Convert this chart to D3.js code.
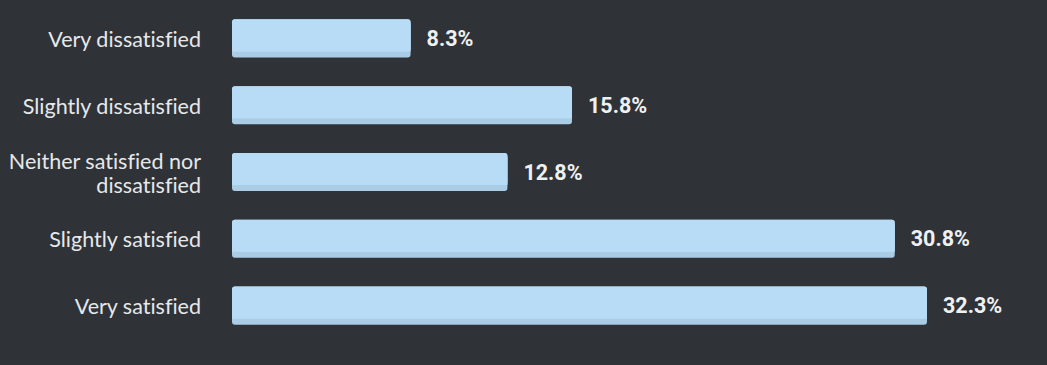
<!DOCTYPE html>
<html><head><meta charset="utf-8">
<script src="https://cdn.jsdelivr.net/npm/d3@7"></script>
<style>html,body{margin:0;padding:0;background:#2f3237;}svg{display:block;}</style>
</head><body>
<script>
const categories = [["Very dissatisfied"], ["Slightly dissatisfied"], ["Neither satisfied nor", "dissatisfied"], ["Slightly satisfied"], ["Very satisfied"]];
const values = [8.3, 15.8, 12.8, 30.8, 32.3];
const valueLabels = ["8.3%", "15.8%", "12.8%", "30.8%", "32.3%"];

const W = 1047, H = 365;
const svg = d3.select("body").append("svg").attr("width", W).attr("height", H);
svg.append("rect").attr("width", W).attr("height", H).attr("fill", "#2f3237");

const idx = d3.range(values.length);
const y = d3.scaleBand().domain(idx).range([6, 338]).paddingInner(0.43).paddingOuter(0.2);
const x = d3.scaleLinear().domain([0, d3.max(values)]).range([232, 927]);

const g = svg.append("g");
const bars = g.selectAll("g.bar").data(idx).enter().append("g");
bars.append("rect")
  .attr("x", x(0)).attr("y", i => y(i))
  .attr("width", i => x(values[i]) - x(0)).attr("height", y.bandwidth())
  .attr("rx", 3).attr("fill", "#aacde5");
bars.append("rect")
  .attr("x", x(0)).attr("y", i => y(i))
  .attr("width", i => x(values[i]) - x(0)).attr("height", y.bandwidth() - 6)
  .attr("rx", 3).attr("fill", "#b8dcf5");
bars.append("rect")
  .attr("x", x(0)).attr("y", i => y(i) + 4)
  .attr("width", i => x(values[i]) - x(0)).attr("height", y.bandwidth() - 10)
  .attr("fill", "#b8dcf5");

bars.append("text")
  .attr("x", i => x(values[i]) + 16)
  .attr("y", i => y(i) + y.bandwidth() / 2)
  .attr("dy", "0.35em")
  .attr("font-family", "Roboto, sans-serif").attr("font-weight", "bold")
  .attr("font-size", 21.5).attr("fill", "#eef0f2")
  .text(i => valueLabels[i]);

const lab = bars.append("text")
  .attr("text-anchor", "end")
  .attr("font-family", "Lato, sans-serif")
  .style("font-variant-ligatures", "none")
  .attr("font-size", 21.5).attr("fill", "#e6e8ea");
lab.each(function(i) {
  const lines = categories[i];
  const cy = y(i) + y.bandwidth() / 2 + 1;
  const lh = 24;
  lines.forEach((t, k) => {
    d3.select(this).append("tspan").attr("x", 201)
      .attr("y", cy + (k - (lines.length - 1) / 2) * lh)
      .attr("dy", "0.35em").text(t);
  });
});
</script>
</body></html>
